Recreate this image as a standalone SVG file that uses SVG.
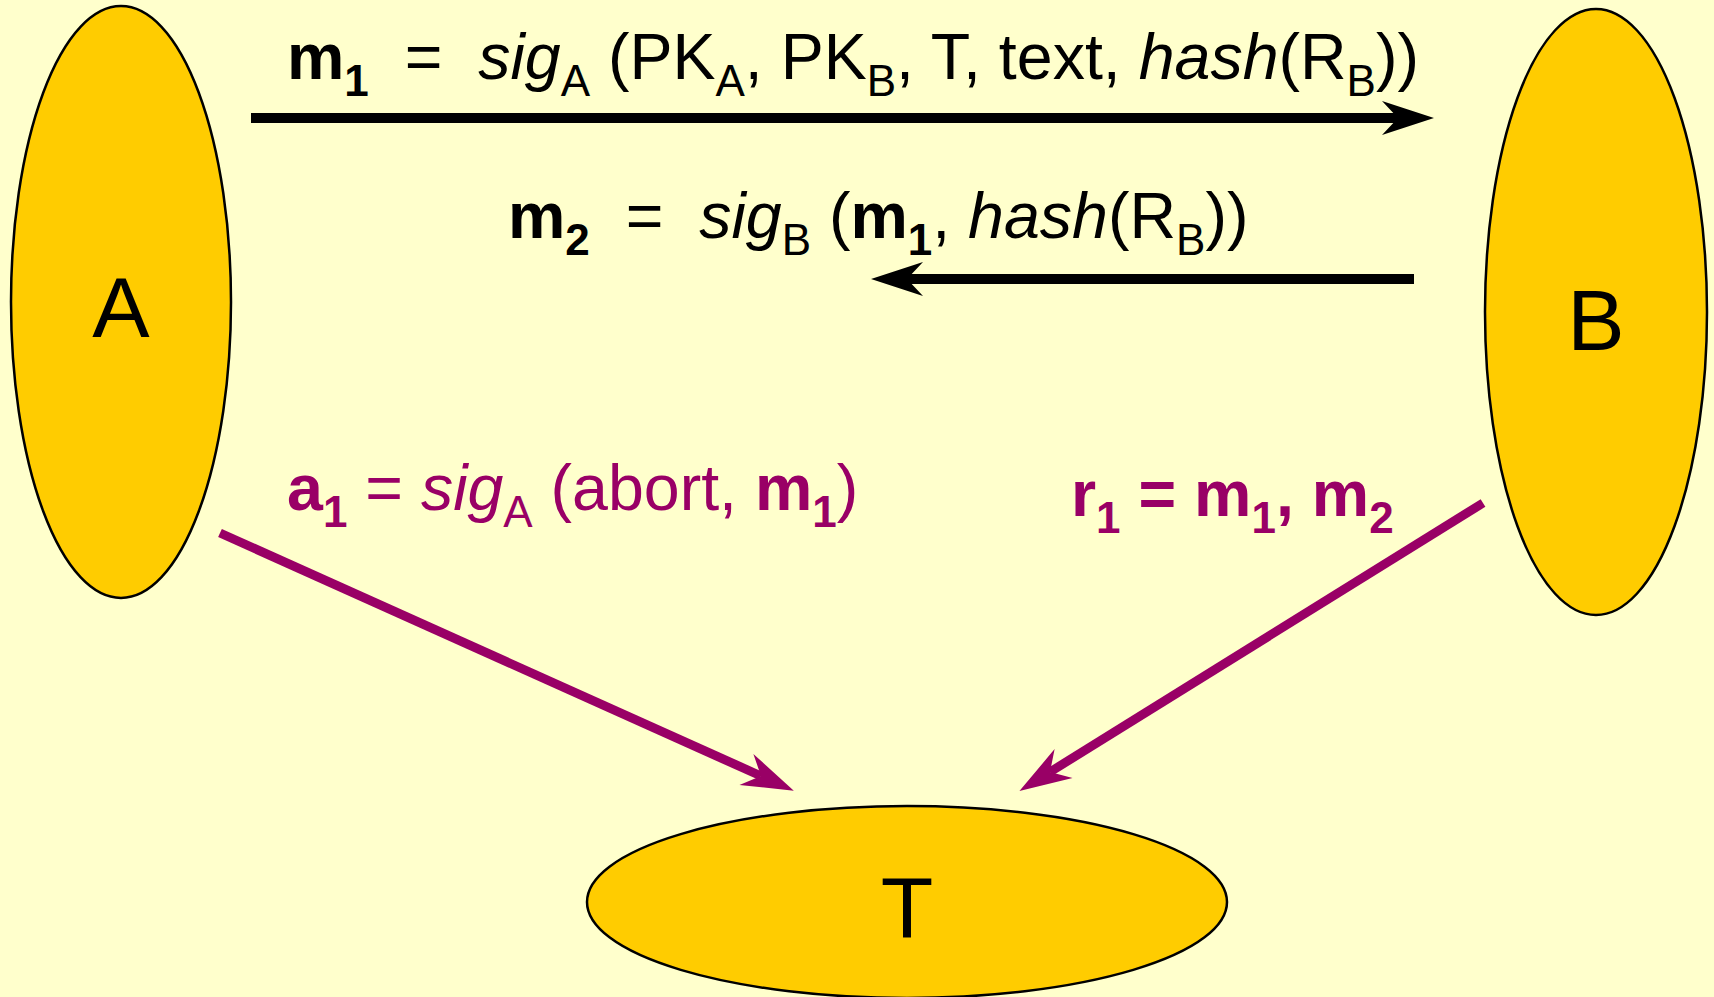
<svg xmlns="http://www.w3.org/2000/svg" width="1714" height="997" viewBox="0 0 1714 997">
<defs>
<style>
.t{font-family:"Liberation Sans",Arial,sans-serif;font-size:64.5px;fill:#000}
.p{fill:#990066}
.b{font-weight:bold}
.i{font-style:italic}
.s{font-size:44px}
.node{fill:#FFCC00;stroke:#000;stroke-width:2.5}
.lbl{font-family:"Liberation Sans",Arial,sans-serif;font-size:86px;fill:#000;text-anchor:middle}
.ck{stroke:#000;stroke-width:10;fill:none}
.cp{stroke:#990066;stroke-width:9;fill:none}
</style>
<marker id="ak" markerUnits="userSpaceOnUse" viewBox="-20 -20 60 40" markerWidth="60" markerHeight="40" refX="0" refY="0" orient="auto" overflow="visible"><path d="M36,0 L-16,-17 L0,0 L-16,17 Z" fill="#000"/></marker>
<marker id="ap" markerUnits="userSpaceOnUse" viewBox="-20 -20 60 40" markerWidth="60" markerHeight="40" refX="0" refY="0" orient="auto" overflow="visible"><path d="M36,0 L-16,-17 L0,0 L-16,17 Z" fill="#990066"/></marker>
</defs>
<rect x="0" y="0" width="1714" height="997" fill="#FFFFCC"/>
<g id="node-A"><ellipse class="node" cx="121" cy="302" rx="110" ry="296"/><text class="lbl" x="121" y="337">A</text></g>
<g id="node-B"><ellipse class="node" cx="1596" cy="312" rx="111" ry="303"/><text class="lbl" x="1596" y="350">B</text></g>
<g id="node-T"><ellipse class="node" cx="907" cy="902" rx="320" ry="96"/><text class="lbl" x="907" y="937">T</text></g>
<g id="connectors">
<line class="ck" x1="251" y1="118" x2="1398" y2="118" marker-end="url(#ak)"/>
<line class="ck" x1="1414" y1="279" x2="907" y2="279" marker-end="url(#ak)"/>
<line class="cp" x1="220" y1="533" x2="761" y2="776" marker-end="url(#ap)"/>
<line class="cp" x1="1483" y1="503" x2="1050" y2="772" marker-end="url(#ap)"/>
</g>
<g id="labels">
<text class="t" x="287" y="79" xml:space="preserve"><tspan class="b">m</tspan><tspan class="b s" dy="17">1</tspan><tspan dy="-17">  =  </tspan><tspan class="i">sig</tspan><tspan class="s" dy="17">A</tspan><tspan dy="-17"> (PK</tspan><tspan class="s" dy="17">A</tspan><tspan dy="-17">, PK</tspan><tspan class="s" dy="17">B</tspan><tspan dy="-17">, T, text, </tspan><tspan class="i">hash</tspan><tspan>(R</tspan><tspan class="s" dy="17">B</tspan><tspan dy="-17">))</tspan></text>
<text class="t" x="508" y="238" xml:space="preserve"><tspan class="b">m</tspan><tspan class="b s" dy="17">2</tspan><tspan dy="-17">  =  </tspan><tspan class="i">sig</tspan><tspan class="s" dy="17">B</tspan><tspan dy="-17"> (</tspan><tspan class="b">m</tspan><tspan class="b s" dy="17">1</tspan><tspan dy="-17">, </tspan><tspan class="i">hash</tspan><tspan>(R</tspan><tspan class="s" dy="17">B</tspan><tspan dy="-17">))</tspan></text>
<text class="t p" x="287" y="510" xml:space="preserve"><tspan class="b">a</tspan><tspan class="b s" dy="17">1</tspan><tspan dy="-17"> = </tspan><tspan class="i">sig</tspan><tspan class="s" dy="17">A</tspan><tspan dy="-17"> (abort, </tspan><tspan class="b">m</tspan><tspan class="b s" dy="17">1</tspan><tspan dy="-17">)</tspan></text>
<text class="t p b" x="1071" y="516" xml:space="preserve"><tspan>r</tspan><tspan class="s" dy="17">1</tspan><tspan dy="-17"> = m</tspan><tspan class="s" dy="17">1</tspan><tspan dy="-17">, m</tspan><tspan class="s" dy="17">2</tspan></text>
</g>
</svg>
